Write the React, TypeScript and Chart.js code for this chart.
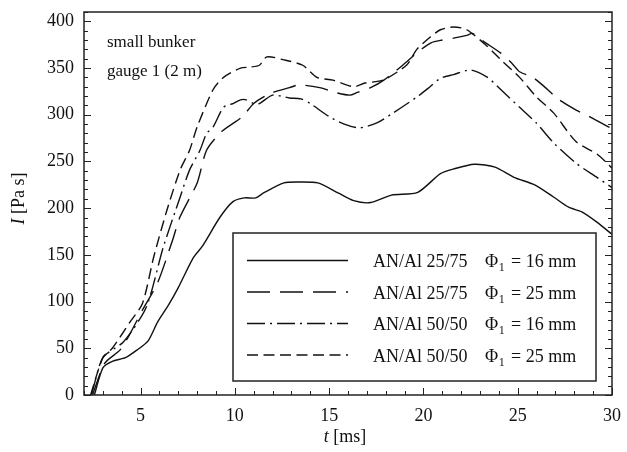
import React, { useEffect, useRef } from "react";
import { Chart, registerables } from "chart.js";

Chart.register(...registerables);

// ---- data ----
const solidT = [2.55, 3.0, 3.5, 4.2, 4.8, 5.4, 5.9, 6.5, 7.0, 7.8, 8.3, 9.2, 9.9, 10.5, 11.1, 11.5, 12.6, 13.3, 14.4, 15.5, 16.3, 17.2, 18.3, 19.7, 20.9, 21.6, 22.7, 23.8, 24.8, 25.9, 26.9, 27.7, 28.4, 29.2, 30.0];
const solidI = [0, 29, 36, 40, 48, 58, 78, 97, 115, 147, 160, 190, 207, 211, 211, 216, 227, 228, 227, 216, 208, 206, 214, 217, 237, 242, 247, 244, 233, 225, 212, 201, 196, 185, 172];

const longDashT = [2.45, 3.1, 3.9, 4.4, 5.1, 5.9, 6.7, 7.1, 8.0, 8.5, 9.3, 10.4, 11.0, 11.9, 12.9, 13.4, 14.5, 15.3, 16.1, 16.5, 17.2, 17.9, 18.9, 19.7, 20.4, 21.0, 21.6, 22.3, 22.6, 23.3, 24.1, 24.7, 25.1, 25.8, 26.3, 27.2, 28.1, 28.8, 30.0];
const longDashI = [0, 34, 48, 64, 91, 120, 166, 191, 227, 262, 282, 298, 312, 323, 329, 332, 329, 324, 321, 324, 329, 337, 353, 367, 377, 380, 382, 385, 387, 377, 366, 355, 346, 340, 332, 316, 305, 298, 285];

const dashDotT = [2.4, 3.0, 4.1, 5.3, 6.2, 7.1, 7.6, 8.15, 8.5, 8.85, 9.4, 9.9, 10.3, 10.6, 11.0, 11.3, 12.0, 12.9, 13.5, 14.0, 15.0, 15.8, 16.6, 17.5, 18.4, 19.65, 20.35, 20.9, 21.6, 22.5, 23.4, 24.1, 25.1, 26.0, 26.9, 28.1, 29.2, 30.0];
const dashDotI = [0, 40, 57, 94, 158, 212, 241, 262, 280, 287, 308, 312, 316, 316, 312, 312, 321, 318, 317, 312, 298, 290, 286, 291, 302, 319, 330, 339, 343, 348, 340, 327, 308, 291, 270, 248, 233, 222];

const shortDashT = [2.35, 3.0, 3.5, 4.4, 5.1, 5.7, 6.4, 7.1, 7.6, 8.0, 8.85, 9.4, 10.3, 10.8, 11.3, 11.7, 12.55, 13.6, 14.35, 15.2, 16.3, 16.9, 17.85, 19.1, 19.65, 20.35, 20.9, 21.6, 22.3, 23.4, 24.1, 25.1, 26.0, 26.9, 28.1, 29.2, 30.0];
const shortDashI = [0, 40, 50, 77, 98, 148, 198, 241, 262, 287, 327, 340, 350, 351, 353, 362, 359, 353, 340, 337, 330, 334, 337, 353, 370, 383, 391, 394, 391, 373, 359, 340, 319, 302, 271, 258, 243];

const mixLabels = ["AN/Al 25/75", "AN/Al 25/75", "AN/Al 50/50", "AN/Al 50/50"];
const phiLabels = ["16", "25", "16", "25"];
const dashes: number[][] = [[], [23, 10], [18, 5, 2, 5], [11, 5.5]];

const xTickValues = [5, 10, 15, 20, 25, 30];
const yTickValues = [0, 50, 100, 150, 200, 250, 300, 350, 400];

const annotationLines = ["small bunker", "gauge 1 (2 m)"];

const SERIF = "'Liberation Serif', 'DejaVu Serif', serif";

function toPoints(t: number[], v: number[]) {
  return t.map((x, i) => ({ x, y: v[i] }));
}

const overlayPlugin = {
  id: "overlay",
  afterDraw(chart: any) {
    const ctx: CanvasRenderingContext2D = chart.ctx;
    const { left, right, top, bottom } = chart.chartArea;
    const xs = chart.scales.x;
    const ys = chart.scales.y;
    ctx.save();
    ctx.setLineDash([]);
    ctx.strokeStyle = "#222";
    ctx.lineWidth = 1.5;
    ctx.strokeRect(left, top, right - left, bottom - top);

    // ticks
    ctx.lineWidth = 1;
    ctx.beginPath();
    for (let v = 2; v <= 30; v++) {
      const px = Math.round(xs.getPixelForValue(v)) + 0.5;
      const len = v % 5 === 0 ? 7 : 4;
      ctx.moveTo(px, bottom);
      ctx.lineTo(px, bottom - len);
    }
    for (let v = 0; v <= 410; v += 10) {
      const py = Math.round(ys.getPixelForValue(v)) + 0.5;
      const len = v % 50 === 0 ? 7 : 4;
      ctx.moveTo(left, py);
      ctx.lineTo(left + len, py);
      ctx.moveTo(right, py);
      ctx.lineTo(right - len, py);
    }
    ctx.stroke();

    // annotation
    ctx.fillStyle = "#111";
    ctx.font = `17px ${SERIF}`;
    ctx.textAlign = "left";
    ctx.textBaseline = "middle";
    ctx.fillText(annotationLines[0], 107, 43);
    ctx.fillText(annotationLines[1], 107, 72);

    // legend box
    const bx = 233, by = 233, bw = 363, bh = 148;
    ctx.fillStyle = "#fff";
    ctx.fillRect(bx, by, bw, bh);
    ctx.strokeStyle = "#222";
    ctx.lineWidth = 1.5;
    ctx.strokeRect(bx, by, bw, bh);
    const rows = [262, 293.5, 325, 356.5];
    rows.forEach((ry, i) => {
      ctx.strokeStyle = "#111";
      ctx.lineWidth = 1.4;
      ctx.setLineDash(dashes[i]);
      ctx.beginPath();
      ctx.moveTo(247, ry - 1.5);
      ctx.lineTo(348, ry - 1.5);
      ctx.stroke();
      ctx.setLineDash([]);
      ctx.fillStyle = "#111";
      ctx.textBaseline = "alphabetic";
      ctx.font = `18px ${SERIF}`;
      const base = ry + 5;
      ctx.fillText(mixLabels[i], 373, base);
      const phiX = 485;
      ctx.fillText("\u03A6", phiX, base);
      const phiW = ctx.measureText("\u03A6").width;
      ctx.font = `12px ${SERIF}`;
      const subX = phiX + phiW + 0.5;
      ctx.fillText("1", subX, base + 4);
      const subW = ctx.measureText("1").width;
      ctx.font = `18px ${SERIF}`;
      ctx.fillText(`= ${phiLabels[i]} mm`, Math.max(511, subX + subW + 3), base);
    });

    // axis titles
    ctx.fillStyle = "#111";
    ctx.textBaseline = "middle";
    const drawMixed = (parts: { text: string; italic: boolean }[], cx: number, cy: number) => {
      let total = 0;
      parts.forEach((p) => {
        ctx.font = `${p.italic ? "italic " : ""}18px ${SERIF}`;
        total += ctx.measureText(p.text).width;
      });
      let x = cx - total / 2;
      ctx.textAlign = "left";
      parts.forEach((p) => {
        ctx.font = `${p.italic ? "italic " : ""}18px ${SERIF}`;
        ctx.fillText(p.text, x, cy);
        x += ctx.measureText(p.text).width;
      });
    };
    drawMixed([{ text: "t", italic: true }, { text: " [ms]", italic: false }], (left + right) / 2 - 3, 437);
    ctx.save();
    ctx.translate(19, (top + bottom) / 2 - 5);
    ctx.rotate(-Math.PI / 2);
    drawMixed([{ text: "I", italic: true }, { text: " [Pa s]", italic: false }], 0, 0);
    ctx.restore();

    ctx.restore();
  },
};

export default function App() {
  const canvasRef = useRef<HTMLCanvasElement | null>(null);

  useEffect(() => {
    document.body.style.margin = "0";
    const canvas = canvasRef.current;
    if (!canvas) return;
    const mk = (label: string, t: number[], v: number[], dash: number[]) => ({
      label,
      data: toPoints(t, v),
      borderColor: "#111",
      borderWidth: 1.4,
      borderDash: dash,
      pointRadius: 0,
      tension: 0.25,
      fill: false,
    });
    const chart = new Chart(canvas, {
      type: "line",
      data: {
        datasets: [
          mk(`${mixLabels[0]} Φ1 = ${phiLabels[0]} mm`, solidT, solidI, dashes[0]),
          mk(`${mixLabels[1]} Φ1 = ${phiLabels[1]} mm`, longDashT, longDashI, dashes[1]),
          mk(`${mixLabels[2]} Φ1 = ${phiLabels[2]} mm`, dashDotT, dashDotI, dashes[2]),
          mk(`${mixLabels[3]} Φ1 = ${phiLabels[3]} mm`, shortDashT, shortDashI, dashes[3]),
        ],
      },
      options: {
        animation: false,
        responsive: false,
        devicePixelRatio: 1,
        layout: { padding: { top: 12, right: 15, left: 0, bottom: 0 } },
        plugins: { legend: { display: false }, tooltip: { enabled: false } },
        scales: {
          x: {
            type: "linear",
            min: 2,
            max: 30,
            grid: { display: false, drawTicks: false },
            border: { display: false },
            ticks: { stepSize: 5, padding: 10, color: "#111", font: { family: SERIF, size: 18 }, maxRotation: 0 },
            afterBuildTicks: (s: any) => {
              s.ticks = xTickValues.map((value) => ({ value }));
            },
            afterFit: (s: any) => {
              s.height = 57;
              s.paddingLeft = 0;
              s.paddingRight = 0;
            },
          },
          y: {
            type: "linear",
            min: 0,
            max: 410,
            grid: { display: false, drawTicks: false },
            border: { display: false },
            ticks: { stepSize: 50, padding: 10, color: "#111", font: { family: SERIF, size: 18 } },
            afterBuildTicks: (s: any) => {
              s.ticks = yTickValues.map((value) => ({ value }));
            },
            afterFit: (s: any) => {
              s.width = 84;
              s.paddingTop = 0;
              s.paddingBottom = 0;
            },
          },
        },
      },
      plugins: [overlayPlugin],
    } as any);
    return () => chart.destroy();
  }, []);

  return (
    <div style={{ position: "absolute", left: 0, top: 0, width: 627, height: 452, background: "#fff" }}>
      <canvas ref={canvasRef} width={627} height={452} style={{ width: 627, height: 452, display: "block" }} />
    </div>
  );
}
